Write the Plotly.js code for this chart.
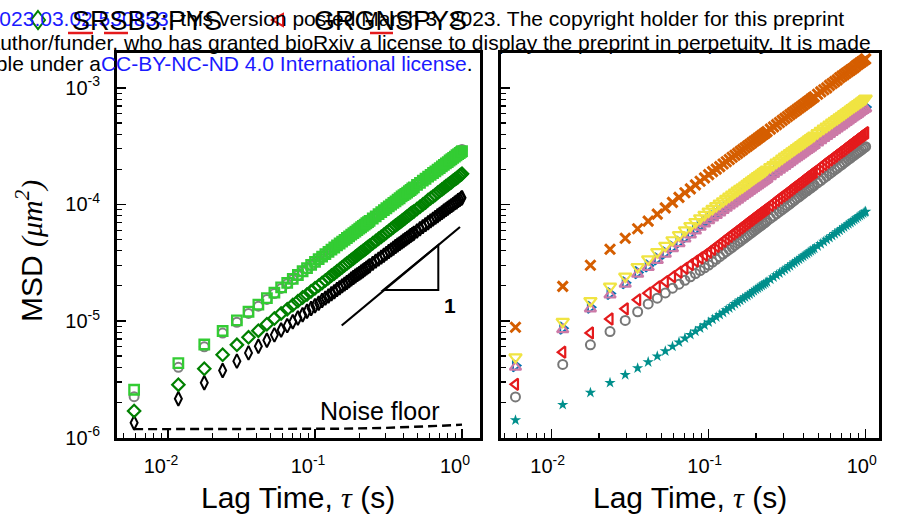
<!DOCTYPE html>
<html><head><meta charset="utf-8">
<script src="https://cdn.plot.ly/plotly-3.0.1.min.js"></script>
<style>html,body{margin:0;padding:0;background:#fff}#chart{width:899px;height:524px}</style>
</head><body><div id="chart"></div>
<script>
// Lag times (s)
const tau = [0.00588,0.01176,0.01765,0.02353,0.02941,0.03529,0.04118,0.04706,0.05294,0.05882,0.06471,0.07059,0.07647,0.08235,0.08824,0.09412,0.1,0.10588,0.11176,0.11765,
0.12353,0.12941,0.13529,0.14118,0.14706,0.15294,0.15882,0.16471,0.17059,0.17647,0.18235,0.18824,0.19412,0.2,0.20588,0.21176,0.21765,0.22353,0.22941,0.23529,
0.24706,0.25882,0.27059,0.28235,0.29412,0.30588,0.31765,0.32941,0.34118,0.35294,0.36471,0.37647,0.38824,0.4,0.41176,0.42353,0.43529,0.44706,0.45882,0.47059,
0.49412,0.51765,0.54118,0.56471,0.58824,0.61176,0.63529,0.65882,0.68235,0.70588,0.72941,0.75294,0.77647,0.8,0.82353,0.84706,0.87059,0.89412,0.91765,0.94118,0.96471,0.98824,1.0];

// Left panel MSD (um^2)
const msdLimeSq = [2.57e-6,4.35e-6,6.28e-6,8.20e-6,1.01e-5,1.20e-5,1.38e-5,1.57e-5,1.75e-5,1.94e-5,2.12e-5,2.30e-5,2.48e-5,2.67e-5,2.84e-5,3.03e-5,3.21e-5,3.39e-5,3.56e-5,3.74e-5,
3.92e-5,4.09e-5,4.27e-5,4.45e-5,4.62e-5,4.80e-5,4.97e-5,5.15e-5,5.32e-5,5.50e-5,5.67e-5,5.85e-5,6.02e-5,6.19e-5,6.37e-5,6.55e-5,6.72e-5,6.89e-5,7.06e-5,7.23e-5,
7.57e-5,7.91e-5,8.25e-5,8.59e-5,8.93e-5,9.27e-5,9.61e-5,9.95e-5,1.03e-4,1.06e-4,1.10e-4,1.13e-4,1.17e-4,1.20e-4,1.23e-4,1.26e-4,1.30e-4,1.33e-4,1.37e-4,1.40e-4,
1.47e-4,1.53e-4,1.60e-4,1.66e-4,1.73e-4,1.79e-4,1.86e-4,1.92e-4,1.99e-4,2.05e-4,2.12e-4,2.18e-4,2.25e-4,2.31e-4,2.38e-4,2.44e-4,2.51e-4,2.57e-4,2.64e-4,2.70e-4,2.76e-4,2.82e-4,2.86e-4];
const msdGreyL = [2.24e-6,4.00e-6,6.00e-6,7.87e-6,9.75e-6,1.16e-5,1.34e-5,1.53e-5,1.72e-5,1.90e-5,2.09e-5,2.27e-5,2.46e-5,2.64e-5,2.81e-5,3.00e-5,3.18e-5,3.36e-5,3.53e-5,3.71e-5,
3.89e-5,4.07e-5,4.26e-5,4.44e-5,4.62e-5,4.79e-5,4.97e-5,5.15e-5,5.33e-5,5.51e-5,5.69e-5,5.86e-5,6.04e-5,6.21e-5,6.40e-5,6.58e-5,6.76e-5,6.93e-5,7.11e-5,7.28e-5,
7.63e-5,7.98e-5,8.33e-5,8.68e-5,9.03e-5,9.38e-5,9.74e-5,1.01e-4,1.05e-4,1.08e-4,1.12e-4,1.15e-4,1.19e-4,1.22e-4,1.25e-4,1.28e-4,1.32e-4,1.36e-4,1.40e-4,1.43e-4,
1.50e-4,1.56e-4,1.63e-4,1.70e-4,1.77e-4,1.83e-4,1.90e-4,1.97e-4,2.04e-4,2.11e-4,2.18e-4,2.24e-4,2.31e-4,2.38e-4,2.45e-4,2.52e-4,2.59e-4,2.65e-4,2.72e-4,2.79e-4,2.86e-4,2.92e-4,2.96e-4];
const msdDkGreenDia = [1.69e-6,2.84e-6,3.89e-6,5.13e-6,6.24e-6,7.24e-6,8.26e-6,9.38e-6,1.05e-5,1.16e-5,1.26e-5,1.37e-5,1.48e-5,1.59e-5,1.69e-5,1.80e-5,1.91e-5,2.01e-5,2.12e-5,2.23e-5,
2.34e-5,2.45e-5,2.56e-5,2.67e-5,2.78e-5,2.89e-5,3.00e-5,3.11e-5,3.22e-5,3.33e-5,3.44e-5,3.55e-5,3.66e-5,3.77e-5,3.88e-5,3.98e-5,4.09e-5,4.20e-5,4.31e-5,4.42e-5,
4.64e-5,4.85e-5,5.07e-5,5.28e-5,5.50e-5,5.71e-5,5.93e-5,6.14e-5,6.36e-5,6.58e-5,6.79e-5,7.00e-5,7.22e-5,7.43e-5,7.65e-5,7.87e-5,8.09e-5,8.30e-5,8.51e-5,8.71e-5,
9.14e-5,9.57e-5,1.00e-4,1.04e-4,1.09e-4,1.13e-4,1.17e-4,1.21e-4,1.26e-4,1.30e-4,1.34e-4,1.38e-4,1.43e-4,1.47e-4,1.51e-4,1.55e-4,1.60e-4,1.64e-4,1.68e-4,1.72e-4,1.77e-4,1.81e-4,1.83e-4];
const msdBlackDia = [1.34e-6,2.15e-6,2.95e-6,3.76e-6,4.52e-6,5.32e-6,6.07e-6,6.84e-6,7.60e-6,8.36e-6,9.12e-6,9.86e-6,1.06e-5,1.13e-5,1.21e-5,1.28e-5,1.35e-5,1.42e-5,1.50e-5,1.57e-5,
1.64e-5,1.71e-5,1.78e-5,1.86e-5,1.93e-5,2.00e-5,2.07e-5,2.14e-5,2.21e-5,2.29e-5,2.36e-5,2.43e-5,2.50e-5,2.56e-5,2.63e-5,2.70e-5,2.77e-5,2.84e-5,2.91e-5,2.98e-5,
3.12e-5,3.26e-5,3.39e-5,3.53e-5,3.66e-5,3.80e-5,3.94e-5,4.07e-5,4.21e-5,4.35e-5,4.48e-5,4.61e-5,4.75e-5,4.88e-5,5.01e-5,5.14e-5,5.27e-5,5.41e-5,5.53e-5,5.66e-5,
5.92e-5,6.19e-5,6.45e-5,6.71e-5,6.97e-5,7.23e-5,7.48e-5,7.74e-5,8.00e-5,8.26e-5,8.51e-5,8.77e-5,9.02e-5,9.27e-5,9.52e-5,9.77e-5,1.00e-4,1.03e-4,1.05e-4,1.08e-4,1.10e-4,1.13e-4,1.14e-4];
// Noise floor
const noiseTau = [0.00588,0.05,0.15,0.3,0.5,0.7,1.0];
const noiseMsd = [1.18e-6,1.18e-6,1.19e-6,1.21e-6,1.23e-6,1.26e-6,1.29e-6];

// Right panel MSD (um^2)
const msdOrangeX = [8.83e-6,1.98e-5,3.01e-5,4.12e-5,5.12e-5,6.19e-5,7.19e-5,8.26e-5,9.33e-5,1.04e-4,1.15e-4,1.26e-4,1.36e-4,1.47e-4,1.58e-4,1.69e-4,1.80e-4,1.91e-4,2.01e-4,2.11e-4,
2.22e-4,2.32e-4,2.43e-4,2.54e-4,2.64e-4,2.74e-4,2.85e-4,2.95e-4,3.06e-4,3.16e-4,3.27e-4,3.37e-4,3.48e-4,3.58e-4,3.69e-4,3.79e-4,3.90e-4,4.00e-4,4.11e-4,4.21e-4,
4.42e-4,4.63e-4,4.84e-4,5.05e-4,5.26e-4,5.47e-4,5.68e-4,5.89e-4,6.10e-4,6.30e-4,6.51e-4,6.71e-4,6.92e-4,7.13e-4,7.34e-4,7.55e-4,7.76e-4,7.96e-4,8.18e-4,8.39e-4,
8.81e-4,9.23e-4,9.62e-4,1.00e-3,1.05e-3,1.09e-3,1.13e-3,1.17e-3,1.22e-3,1.26e-3,1.30e-3,1.34e-3,1.38e-3,1.42e-3,1.46e-3,1.50e-3,1.55e-3,1.59e-3,1.63e-3,1.67e-3,1.71e-3,1.75e-3,1.77e-3];
const msdYellowTri = [4.90e-6,9.86e-6,1.49e-5,1.98e-5,2.41e-5,2.91e-5,3.39e-5,3.91e-5,4.43e-5,4.95e-5,5.48e-5,6.01e-5,6.55e-5,7.08e-5,7.62e-5,8.17e-5,8.71e-5,9.20e-5,9.70e-5,1.02e-4,
1.07e-4,1.12e-4,1.17e-4,1.22e-4,1.27e-4,1.32e-4,1.37e-4,1.41e-4,1.46e-4,1.51e-4,1.56e-4,1.61e-4,1.66e-4,1.71e-4,1.76e-4,1.80e-4,1.85e-4,1.90e-4,1.95e-4,2.00e-4,
2.10e-4,2.19e-4,2.29e-4,2.38e-4,2.48e-4,2.58e-4,2.68e-4,2.77e-4,2.87e-4,2.96e-4,3.06e-4,3.15e-4,3.25e-4,3.34e-4,3.44e-4,3.53e-4,3.63e-4,3.72e-4,3.82e-4,3.91e-4,
4.11e-4,4.30e-4,4.49e-4,4.67e-4,4.86e-4,5.05e-4,5.24e-4,5.42e-4,5.61e-4,5.79e-4,5.98e-4,6.17e-4,6.36e-4,6.55e-4,6.74e-4,6.92e-4,7.11e-4,7.29e-4,7.48e-4,7.66e-4,7.85e-4,8.04e-4,8.13e-4];
const msdPinkTri = [4.02e-6,8.43e-6,1.27e-5,1.67e-5,2.07e-5,2.52e-5,2.88e-5,3.31e-5,3.74e-5,4.18e-5,4.61e-5,5.05e-5,5.48e-5,5.92e-5,6.37e-5,6.81e-5,7.24e-5,7.66e-5,8.05e-5,8.47e-5,
8.88e-5,9.29e-5,9.70e-5,1.01e-4,1.05e-4,1.09e-4,1.13e-4,1.17e-4,1.21e-4,1.25e-4,1.29e-4,1.33e-4,1.37e-4,1.41e-4,1.45e-4,1.49e-4,1.53e-4,1.57e-4,1.61e-4,1.65e-4,
1.73e-4,1.81e-4,1.89e-4,1.97e-4,2.05e-4,2.12e-4,2.20e-4,2.28e-4,2.36e-4,2.44e-4,2.52e-4,2.59e-4,2.67e-4,2.75e-4,2.83e-4,2.90e-4,2.98e-4,3.06e-4,3.14e-4,3.21e-4,
3.37e-4,3.52e-4,3.68e-4,3.83e-4,3.99e-4,4.14e-4,4.30e-4,4.45e-4,4.60e-4,4.74e-4,4.90e-4,5.05e-4,5.21e-4,5.36e-4,5.51e-4,5.66e-4,5.81e-4,5.96e-4,6.12e-4,6.27e-4,6.42e-4,6.56e-4,6.64e-4];
const msdBlueTri = [4.14e-6,8.68e-6,1.31e-5,1.72e-5,2.13e-5,2.60e-5,2.97e-5,3.41e-5,3.85e-5,4.31e-5,4.75e-5,5.20e-5,5.64e-5,6.10e-5,6.56e-5,7.01e-5,7.46e-5,7.89e-5,8.29e-5,8.72e-5,
9.15e-5,9.57e-5,9.99e-5,1.04e-4,1.08e-4,1.12e-4,1.17e-4,1.21e-4,1.25e-4,1.29e-4,1.33e-4,1.37e-4,1.41e-4,1.45e-4,1.49e-4,1.53e-4,1.58e-4,1.62e-4,1.66e-4,1.70e-4,
1.78e-4,1.86e-4,1.95e-4,2.03e-4,2.11e-4,2.18e-4,2.27e-4,2.35e-4,2.43e-4,2.51e-4,2.59e-4,2.67e-4,2.75e-4,2.83e-4,2.91e-4,2.99e-4,3.07e-4,3.15e-4,3.23e-4,3.31e-4,
3.47e-4,3.63e-4,3.79e-4,3.94e-4,4.10e-4,4.26e-4,4.42e-4,4.58e-4,4.73e-4,4.88e-4,5.04e-4,5.20e-4,5.36e-4,5.52e-4,5.68e-4,5.83e-4,5.99e-4,6.14e-4,6.30e-4,6.46e-4,6.61e-4,6.76e-4,6.84e-4];
const msdRedTri = [2.86e-6,5.40e-6,7.89e-6,1.04e-5,1.27e-5,1.52e-5,1.73e-5,1.96e-5,2.18e-5,2.40e-5,2.62e-5,2.83e-5,3.05e-5,3.26e-5,3.47e-5,3.68e-5,3.89e-5,4.12e-5,4.37e-5,4.59e-5,
4.83e-5,5.07e-5,5.31e-5,5.55e-5,5.78e-5,6.01e-5,6.25e-5,6.49e-5,6.73e-5,6.97e-5,7.21e-5,7.45e-5,7.69e-5,7.93e-5,8.16e-5,8.39e-5,8.63e-5,8.87e-5,9.11e-5,9.35e-5,
9.83e-5,1.03e-4,1.08e-4,1.13e-4,1.18e-4,1.22e-4,1.27e-4,1.32e-4,1.37e-4,1.42e-4,1.47e-4,1.51e-4,1.56e-4,1.61e-4,1.66e-4,1.71e-4,1.76e-4,1.81e-4,1.86e-4,1.90e-4,
2.00e-4,2.10e-4,2.20e-4,2.30e-4,2.40e-4,2.49e-4,2.59e-4,2.69e-4,2.79e-4,2.88e-4,2.98e-4,3.08e-4,3.18e-4,3.28e-4,3.38e-4,3.48e-4,3.58e-4,3.67e-4,3.77e-4,3.87e-4,3.97e-4,4.07e-4,4.12e-4];
const msdGreyR = [2.23e-6,4.24e-6,6.24e-6,8.11e-6,1.01e-5,1.20e-5,1.40e-5,1.57e-5,1.74e-5,1.91e-5,2.07e-5,2.23e-5,2.39e-5,2.55e-5,2.71e-5,2.86e-5,3.02e-5,3.20e-5,3.38e-5,3.56e-5,
3.75e-5,3.93e-5,4.11e-5,4.29e-5,4.47e-5,4.65e-5,4.83e-5,5.01e-5,5.20e-5,5.38e-5,5.56e-5,5.74e-5,5.93e-5,6.11e-5,6.29e-5,6.47e-5,6.66e-5,6.84e-5,7.03e-5,7.21e-5,
7.58e-5,7.94e-5,8.31e-5,8.67e-5,9.04e-5,9.40e-5,9.75e-5,1.01e-4,1.05e-4,1.09e-4,1.13e-4,1.16e-4,1.20e-4,1.24e-4,1.28e-4,1.31e-4,1.35e-4,1.38e-4,1.42e-4,1.46e-4,
1.53e-4,1.60e-4,1.68e-4,1.75e-4,1.83e-4,1.90e-4,1.98e-4,2.05e-4,2.13e-4,2.20e-4,2.28e-4,2.35e-4,2.43e-4,2.50e-4,2.58e-4,2.65e-4,2.73e-4,2.80e-4,2.87e-4,2.94e-4,3.02e-4,3.10e-4,3.13e-4];
const msdTealStar = [1.41e-6,1.91e-6,2.43e-6,2.95e-6,3.45e-6,3.94e-6,4.44e-6,4.98e-6,5.51e-6,6.04e-6,6.56e-6,7.10e-6,7.62e-6,8.15e-6,8.67e-6,9.20e-6,9.75e-6,1.03e-5,1.08e-5,1.13e-5,
1.18e-5,1.24e-5,1.29e-5,1.34e-5,1.40e-5,1.45e-5,1.50e-5,1.55e-5,1.60e-5,1.65e-5,1.70e-5,1.75e-5,1.81e-5,1.86e-5,1.91e-5,1.96e-5,2.01e-5,2.06e-5,2.11e-5,2.16e-5,
2.27e-5,2.37e-5,2.47e-5,2.57e-5,2.67e-5,2.77e-5,2.87e-5,2.97e-5,3.08e-5,3.18e-5,3.28e-5,3.38e-5,3.48e-5,3.58e-5,3.68e-5,3.78e-5,3.88e-5,3.98e-5,4.09e-5,4.19e-5,
4.39e-5,4.58e-5,4.79e-5,4.99e-5,5.19e-5,5.38e-5,5.58e-5,5.78e-5,5.98e-5,6.18e-5,6.39e-5,6.59e-5,6.79e-5,6.98e-5,7.18e-5,7.38e-5,7.59e-5,7.80e-5,7.99e-5,8.18e-5,8.39e-5,8.59e-5,8.69e-5];

// Tick labels
const yTickVals = [1e-6,1e-5,1e-4,1e-3];
const yTickText = ['10<sup>-6</sup>','10<sup>-5</sup>','10<sup>-4</sup>','10<sup>-3</sup>'];
const xTickVals = [1e-2,1e-1,1];
const xTickText = ['10<sup>-2</sup>','10<sup>-1</sup>','10<sup>0</sup>'];
const xMinorVals = [], yMinorVals = [];
[-3,-2,-1,0].forEach(d=>{for(let m=2;m<=9;m++) xMinorVals.push(m*Math.pow(10,d));});
[-7,-6,-5,-4,-3].forEach(d=>{for(let m=2;m<=9;m++) yMinorVals.push(m*Math.pow(10,d));});

// layout geometry (pixels)
const PL=117, PR=879, PT=53, PB=438;
const px = x => (x-PL)/(PR-PL);
const py = y => (PB-y)/(PB-PT);

function sc(x, y, xa, ya, symbol, size, color, lw){
  return {type:'scatter', mode:'markers', x:x, y:y, xaxis:xa, yaxis:ya,
    marker:{symbol:symbol, size:size, color:color, line:{color:color, width:lw}},
    hoverinfo:'skip', cliponaxis:true};
}
const traces = [
  {type:'scatter', mode:'lines', x:noiseTau, y:noiseMsd, xaxis:'x', yaxis:'y',
   line:{color:'black', width:2.4, dash:'9px,5px'}, hoverinfo:'skip'},
  sc(tau, msdBlackDia, 'x','y','diamond-tall-open', 10, '#000000', 2),
  sc(tau, msdDkGreenDia, 'x','y','diamond-open', 9.5, '#008000', 2.2),
  sc(tau, msdGreyL, 'x','y','circle-open', 9, '#808080', 2),
  sc(tau, msdLimeSq, 'x','y','square-open', 9.5, '#33cc33', 2.3),
  sc(tau, msdGreyR, 'x2','y2','circle-open', 9, '#777777', 2),
  sc(tau, msdRedTri, 'x2','y2','triangle-left-open', 10, '#e41a1c', 2.2),
  sc(tau, msdBlueTri, 'x2','y2','triangle-right-open', 10, '#0072b2', 2),
  sc(tau, msdPinkTri, 'x2','y2','triangle-up-open', 10, '#cc79a7', 2.2),
  sc(tau, msdYellowTri, 'x2','y2','triangle-down-open', 11, '#f0e442', 2.2),
  sc(tau, msdOrangeX, 'x2','y2','x-thin-open', 10, '#d55e00', 3),
  {type:'scatter', mode:'markers', x:tau, y:msdTealStar, xaxis:'x2', yaxis:'y2',
   marker:{symbol:'star', size:8.5, color:'#008f8c', line:{width:0}}, hoverinfo:'skip'}
];

const FONT = 'Liberation Sans, Arial, sans-serif';
function axisBase(){
  return {type:'log', showline:true, linewidth:3, linecolor:'black', mirror:true,
    ticks:'inside', ticklen:9, tickwidth:1.5, tickcolor:'black',
    showgrid:false, zeroline:false, tickmode:'array',
    tickfont:{family:FONT, size:20, color:'black'},
    minor:{tickmode:'array', tickvals:null, ticks:'inside', ticklen:5, tickwidth:1.2, tickcolor:'black', showgrid:false}};
}
const xa = axisBase(); xa.domain=[0, px(479.5)]; xa.range=[-2.347, 0.119];
xa.tickvals=xTickVals; xa.ticktext=xTickText; xa.minor.tickvals=xMinorVals; xa.anchor='y';
xa.ticklabelstandoff=8; xa.ticklabelshift=-7;
const xa2 = axisBase(); xa2.domain=[px(500.5), 1]; xa2.range=[-2.326, 0.085];
xa2.tickvals=xTickVals; xa2.ticktext=xTickText; xa2.minor.tickvals=xMinorVals; xa2.anchor='y2';
xa2.ticklabelstandoff=8; xa2.ticklabelshift=-4;
const ya = axisBase(); ya.domain=[0,1]; ya.range=[-6.004, -2.701];
ya.tickvals=yTickVals; ya.ticktext=yTickText; ya.minor.tickvals=yMinorVals; ya.anchor='x';
ya.ticklabelstandoff=10;
const ya2 = axisBase(); ya2.domain=[0,1]; ya2.range=[-6.004, -2.701];
ya2.tickvals=yTickVals; ya2.ticktext=yTickText; ya2.minor.tickvals=yMinorVals; ya2.anchor='x2';
ya2.showticklabels=false;

const BLUE = '#1a1aff';
function ann(text, x, y, size, opts){
  return Object.assign({xref:'paper', yref:'paper', x:x, y:y, text:text, showarrow:false,
    xanchor:'center', yanchor:'middle', font:{family:FONT, size:size, color:'black'}}, opts||{});
}
const serif = "font-family:'Liberation Serif','DejaVu Serif',serif;font-style:italic";
const annotations = [
  ann('bioRxiv preprint doi: <span style="color:'+BLUE+'">https://doi.org/10.1101/2023.03.02.530853</span>; this version posted March 3, 2023. The copyright holder for this preprint', px(846), py(18), 21, {xanchor:'right'}),
  ann('(which was not certified by peer review) is the author/funder, who has granted bioRxiv a license to display the preprint in perpetuity. It is made', px(873), py(42), 21, {xanchor:'right'}),
  ann('available under a<span style="color:'+BLUE+'">CC-BY-NC-ND 4.0 International license</span>.', px(475), py(63), 21, {xanchor:'right'}),
  ann('SRSB3:PYS', px(70), py(21), 27, {xanchor:'left'}),
  ann('GRGNSPYS', px(312), py(21), 27, {xanchor:'left'}),
  ann('Noise floor', px(380), py(411), 25),
  ann('<b>1</b>', px(450), py(305), 21),
  ann('Lag Time, <span style="'+serif+'">τ</span> (s)', px(298), py(497), 30),
  ann('Lag Time, <span style="'+serif+'">τ</span> (s)', px(690), py(497), 30),
  ann('MSD <span style="'+serif+'">(μm<sup>2</sup>)</span>', px(30), py(251), 30, {textangle:-90})
];

function P(x,y){return px(x)+','+py(y);}
const shapes = [
  {type:'line', xref:'paper', yref:'paper', x0:px(341.7), y0:py(325.5), x1:px(460), y1:py(227), line:{color:'black', width:2.2}},
  {type:'path', xref:'paper', yref:'paper', path:'M'+P(383.3,290)+' L'+P(438.3,245)+' L'+P(438.3,290)+' Z', line:{color:'black', width:2}},
  {type:'path', xref:'paper', yref:'paper', path:'M'+P(38,11)+' L'+P(45,20)+' L'+P(38,29)+' L'+P(31,20)+' Z', line:{color:'#008000', width:2}},
  {type:'path', xref:'paper', yref:'paper', path:'M'+P(272,20)+' L'+P(283,14)+' L'+P(283,26)+' Z', line:{color:'#e41a1c', width:2}},
  {type:'line', xref:'paper', yref:'paper', x0:px(68), y0:py(33), x1:px(93), y1:py(33), line:{color:'#e41a1c', width:2.5}},
  {type:'line', xref:'paper', yref:'paper', x0:px(104), y0:py(33), x1:px(128), y1:py(33), line:{color:'#e41a1c', width:2.5}},
  {type:'line', xref:'paper', yref:'paper', x0:px(370), y0:py(33), x1:px(393), y1:py(33), line:{color:'#e41a1c', width:2.5}}
];

const layout = {
  width:899, height:524, autosize:false,
  margin:{l:PL, r:899-PR, t:PT, b:524-PB, pad:0},
  paper_bgcolor:'white', plot_bgcolor:'white', showlegend:false,
  font:{family:FONT, color:'black'},
  xaxis:xa, yaxis:ya, xaxis2:xa2, yaxis2:ya2,
  annotations:annotations, shapes:shapes
};
Plotly.newPlot('chart', traces, layout, {staticPlot:true, displayModeBar:false});
</script></body></html>
